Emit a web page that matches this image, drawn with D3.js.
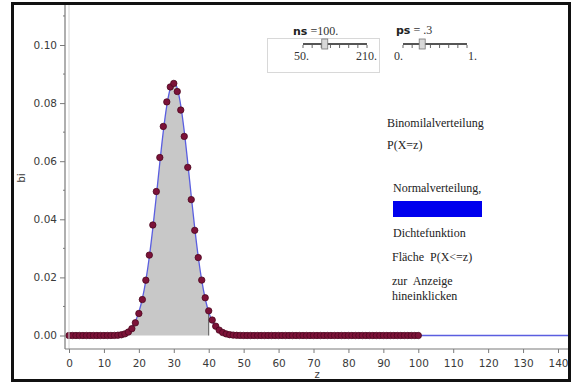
<!DOCTYPE html>
<html>
<head>
<meta charset="utf-8">
<script src="https://cdn.jsdelivr.net/npm/d3@7"></script>
<style>
  html, body { margin: 0; padding: 0; background: #fff; }
  svg { display: block; }
  text { white-space: pre; }
</style>
</head>
<body>
<svg id="chart" width="573" height="385"></svg>
<script>
// Binomial distribution B(ns = 100, ps = 0.3): P(X = z) for z = 0..100
const zValues = d3.range(0, 101);
const binomValues = [
  0, 0, 0, 0, 0, 0, 0, 0, 0, 0,
  0.0000003, 0.0000041, 0.0000130, 0.0000378, 0.000101, 0.000248, 0.000564, 0.001194, 0.002360, 0.004365,
  0.007577, 0.01237, 0.01904, 0.02767, 0.03804, 0.04956, 0.06127, 0.07197, 0.08041, 0.08556,
  0.08678, 0.08398, 0.07761, 0.06854, 0.05788, 0.04678, 0.03620, 0.02683, 0.01907, 0.01299,
  0.008491, 0.005325, 0.003206, 0.001853, 0.001029, 0.000549, 0.000281, 0.000138, 0.0000655, 0.0000298,
  0.0000130, 0.0000054, 0.0000021, 0, 0, 0, 0, 0, 0, 0,
  0, 0, 0, 0, 0, 0, 0, 0, 0, 0,
  0, 0, 0, 0, 0, 0, 0, 0, 0, 0,
  0, 0, 0, 0, 0, 0, 0, 0, 0, 0,
  0, 0, 0, 0, 0, 0, 0, 0, 0, 0,
  0
];

// Normal density N(30, 21), sampled at these z positions
const normZ = [0, 8, 9, 10, 11, 12, 13, 14, 15, 16, 17, 18, 19, 20, 21, 22, 23, 24, 25, 26, 27, 28, 29,
  30, 31, 32, 33, 34, 35, 36, 37, 38, 39, 40, 41, 42, 43, 44, 45, 46, 47, 48, 49, 50, 51, 52, 145];
const normValues = [0, 0.0000003, 0.0000016, 0.0000064, 0.0000161, 0.0000389, 0.0000895, 0.000196, 0.000411,
  0.000819, 0.001556, 0.002822, 0.004881, 0.008049, 0.01265, 0.01897, 0.02711, 0.03694, 0.04801,
  0.05948, 0.07026, 0.07915, 0.08501, 0.08706, 0.08501, 0.07915, 0.07026, 0.05948, 0.04801,
  0.03694, 0.02711, 0.01897, 0.01265, 0.008049, 0.004881, 0.002822, 0.001556, 0.000819, 0.000411,
  0.000196, 0.0000895, 0.0000389, 0.0000161, 0.0000064, 0.0000016, 0.0000003, 0];

// Shaded area P(X <= z) ends at this z
const areaLimit = 40;

// Axis ticks
const xTicks = d3.range(0, 141, 10);
const yTicks = [0, 0.02, 0.04, 0.06, 0.08, 0.10];
const yMinorTicks = [0.01, 0.03, 0.05, 0.07, 0.09, 0.11];

// Slider readouts
const sliderNs = { name: "ns", value: "100.", min: "50.", max: "210.", pos: 0.34 };
const sliderPs = { name: "ps", value: " .3", min: "0.", max: "1.", pos: 0.3 };

// Legend / note texts
const noteBinom = ["Binomilalverteilung", "P(X=z)"];
const noteNormal = ["Normalverteilung,", "Dichtefunktion"];
const noteArea = ["Fläche  P(X<=z)", "zur  Anzeige", "hineinklicken"];

const svg = d3.select("#chart");
const sansFont = "'DejaVu Sans', Verdana, sans-serif";
const serifFont = "'Liberation Serif', 'Times New Roman', serif";

const x = d3.scaleLinear().domain([0, 140]).range([69, 558]);
const y = d3.scaleLinear().domain([0, 0.10]).range([335.5, 45]);

const plotLeft = 65, plotRight = 569, plotTop = 5, plotBottom = 349;

svg.append("defs").append("clipPath").attr("id", "plotclip")
  .append("rect").attr("x", plotLeft).attr("y", plotTop)
  .attr("width", plotRight - plotLeft).attr("height", plotBottom - plotTop);

const plot = svg.append("g").attr("clip-path", "url(#plotclip)");

// shaded area under the density up to areaLimit
const normPts = normZ.map((z, i) => [z, normValues[i]]);
const areaPts = normPts.filter(p => p[0] >= 10 && p[0] <= areaLimit);
plot.append("path")
  .datum(areaPts)
  .attr("fill", "#c8c8c8")
  .attr("d", d3.area().x(d => x(d[0])).y0(y(0)).y1(d => y(d[1])).curve(d3.curveMonotoneX));
plot.append("line")
  .attr("x1", x(areaLimit)).attr("x2", x(areaLimit))
  .attr("y1", y(0)).attr("y2", y(normValues[normZ.indexOf(areaLimit)]))
  .attr("stroke", "#555").attr("stroke-width", 1);

// density curve
plot.append("path")
  .datum(normPts)
  .attr("fill", "none")
  .attr("stroke", "#5a5ee0")
  .attr("stroke-width", 1.3)
  .attr("d", d3.line().x(d => x(d[0])).y(d => y(d[1])).curve(d3.curveMonotoneX));

// binomial points
plot.append("g").selectAll("circle")
  .data(zValues)
  .join("circle")
  .attr("cx", (d, i) => x(d))
  .attr("cy", (d, i) => y(binomValues[i]))
  .attr("r", 3.2)
  .attr("fill", "#7c1238")
  .attr("stroke", "#4d0820")
  .attr("stroke-width", 0.8);

// axes
const axisColor = "#7a7a7a";
svg.append("line").attr("x1", x(0)).attr("x2", x(0)).attr("y1", plotTop).attr("y2", plotBottom)
  .attr("stroke", "#d4d4d4").attr("stroke-width", 1);
svg.append("line").attr("x1", plotLeft).attr("x2", plotLeft).attr("y1", plotTop).attr("y2", plotBottom)
  .attr("stroke", axisColor).attr("stroke-width", 1.2);
svg.append("line").attr("x1", plotLeft).attr("x2", plotRight).attr("y1", plotBottom).attr("y2", plotBottom)
  .attr("stroke", axisColor).attr("stroke-width", 1.2);

const xAxis = svg.append("g")
  .attr("transform", `translate(0,${plotBottom})`)
  .call(d3.axisBottom(x).tickValues(xTicks).tickSize(4).tickSizeOuter(0).tickPadding(7));
xAxis.select(".domain").remove();
xAxis.selectAll(".tick line").attr("stroke", axisColor);
xAxis.selectAll(".tick text")
  .attr("font-family", sansFont).attr("font-size", "10.5px").attr("fill", "#3a3a3a");

const yAxis = svg.append("g")
  .attr("transform", `translate(${plotLeft},0)`)
  .call(d3.axisLeft(y).tickValues(yTicks).tickFormat(d3.format(".2f")).tickSize(5).tickSizeOuter(0).tickPadding(3));
yAxis.select(".domain").remove();
yAxis.selectAll(".tick line").attr("stroke", axisColor);
yAxis.selectAll(".tick text")
  .attr("font-family", sansFont).attr("font-size", "10.5px").attr("fill", "#3a3a3a");

svg.append("g").selectAll("line")
  .data(yMinorTicks)
  .join("line")
  .attr("x1", plotLeft - 2).attr("x2", plotLeft)
  .attr("y1", d => y(d)).attr("y2", d => y(d))
  .attr("stroke", axisColor);

// axis titles
svg.append("text")
  .attr("transform", "translate(25,178) rotate(-90)")
  .attr("text-anchor", "middle")
  .attr("font-family", sansFont).attr("font-size", "10.5px").attr("fill", "#3a3a3a")
  .text("bi");
svg.append("text")
  .attr("x", 317).attr("y", 378)
  .attr("text-anchor", "middle")
  .attr("font-family", sansFont).attr("font-size", "10px").attr("fill", "#3a3a3a")
  .text("z");

// sliders
function drawSlider(s, labelX, labelY, trackX0, trackX1, trackY) {
  const g = svg.append("g");
  const t = g.append("text").attr("x", labelX).attr("y", labelY).attr("fill", "#222");
  t.append("tspan").attr("font-family", sansFont).attr("font-weight", "bold").attr("font-size", "11px").text(s.name);
  t.append("tspan").attr("font-family", serifFont).attr("font-size", "12px").attr("fill", "#333").text(" =" + s.value);
  g.append("line").attr("x1", trackX0).attr("x2", trackX1).attr("y1", trackY).attr("y2", trackY)
    .attr("stroke", "#555").attr("stroke-width", 2);
  const tick = d3.scaleLinear().domain([0, 7]).range([trackX0, trackX1]);
  g.selectAll("line.tk").data(d3.range(0, 8)).join("line").attr("class", "tk")
    .attr("x1", d => tick(d)).attr("x2", d => tick(d))
    .attr("y1", trackY + 1).attr("y2", trackY + 4)
    .attr("stroke", "#666").attr("stroke-width", 1);
  const tx = trackX0 + s.pos * (trackX1 - trackX0);
  g.append("rect").attr("x", tx - 3).attr("y", trackY - 5).attr("width", 6).attr("height", 10)
    .attr("fill", "#d8d8d8").attr("stroke", "#777").attr("stroke-width", 0.8);
  g.append("text").attr("x", trackX0 - 9).attr("y", trackY + 16)
    .attr("font-family", serifFont).attr("font-size", "12px").attr("fill", "#333").text(s.min);
  g.append("text").attr("x", trackX1 + 10).attr("y", trackY + 16).attr("text-anchor", "end")
    .attr("font-family", serifFont).attr("font-size", "12px").attr("fill", "#333").text(s.max);
}
svg.append("rect").attr("x", 267.5).attr("y", 38.5).attr("width", 112).attr("height", 34)
  .attr("fill", "none").attr("stroke", "#b0b0b0").attr("stroke-width", 1).attr("stroke-dasharray", "1,1");
drawSlider(sliderNs, 293, 35, 303, 367, 44);
drawSlider(sliderPs, 396, 34, 403, 467, 44);

// notes
function drawLines(lines, x0, ys) {
  svg.append("g").selectAll("text").data(lines).join("text")
    .attr("x", x0).attr("y", (d, i) => ys[i])
    .attr("font-family", serifFont).attr("font-size", "12px").attr("fill", "#222")
    .text(d => d);
}
drawLines(noteBinom, 387, [127, 149]);
drawLines(noteNormal, 393, [192, 237]);
svg.append("rect").attr("x", 393).attr("y", 201).attr("width", 89).attr("height", 16).attr("fill", "#0000ee");
drawLines(noteArea, 392, [261, 285, 300]);

// frame
svg.append("rect").attr("x", 12.5).attr("y", 3.5).attr("width", 557).attr("height", 377)
  .attr("fill", "none").attr("stroke", "#111").attr("stroke-width", 3);
</script>
</body>
</html>
